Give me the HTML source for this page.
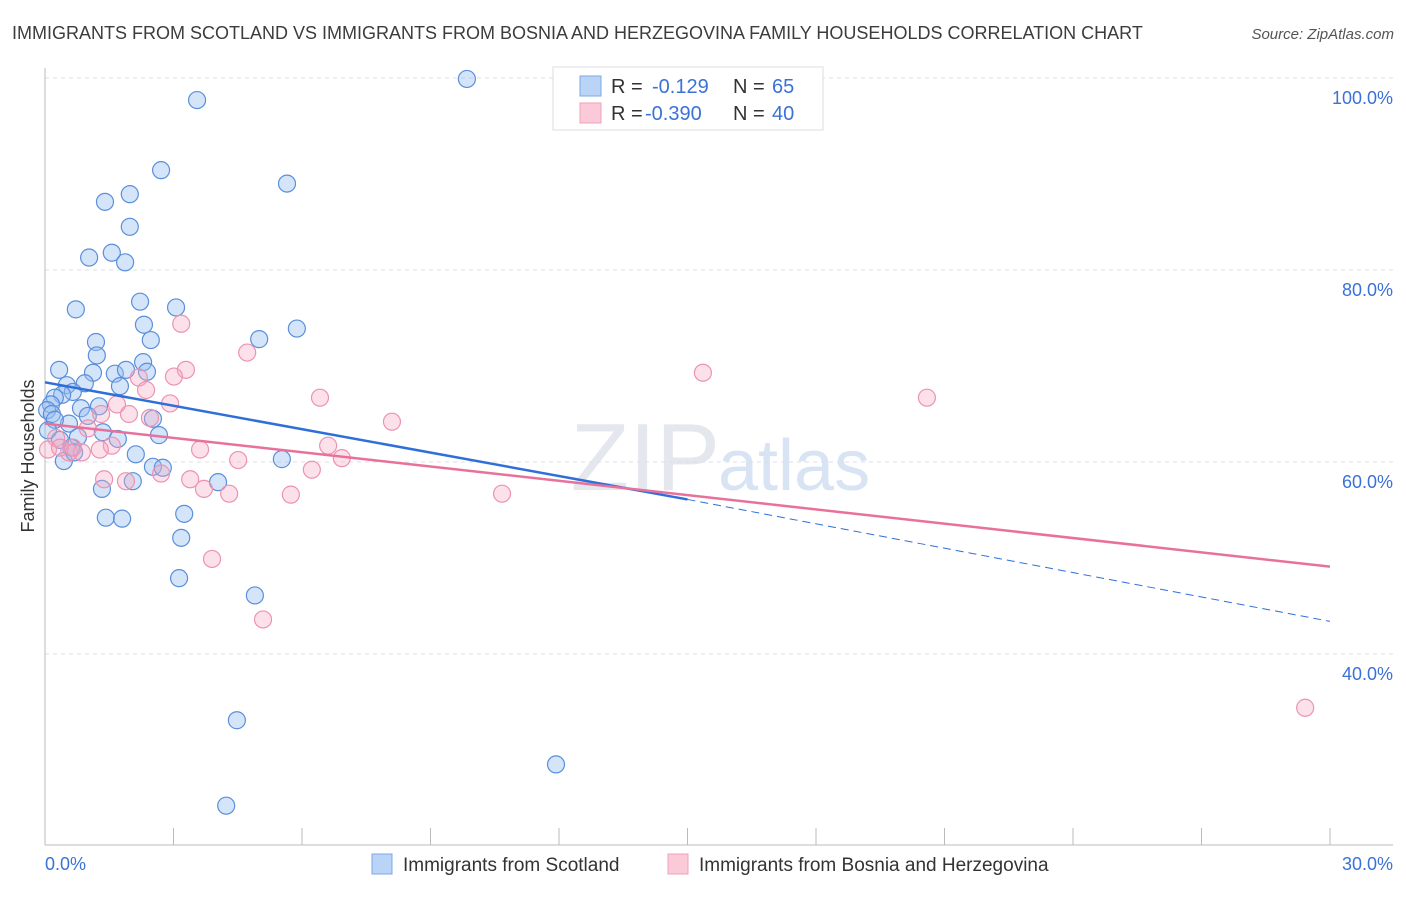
<!DOCTYPE html>
<html><head><meta charset="utf-8"><style>
body{margin:0;background:#fff;font-family:"Liberation Sans",sans-serif;}
svg text{font-family:"Liberation Sans",sans-serif;}
</style></head><body>
<svg id="chart" width="1406" height="892" xmlns="http://www.w3.org/2000/svg">
<text x="12" y="39" font-size="18" fill="#3c3c3c">IMMIGRANTS FROM SCOTLAND VS IMMIGRANTS FROM BOSNIA AND HERZEGOVINA FAMILY HOUSEHOLDS CORRELATION CHART</text>
<text x="1394" y="39" font-size="15" fill="#555" text-anchor="end" font-style="italic">Source: ZipAtlas.com</text>
<text x="720" y="490" font-size="96" fill="#e4e8ee" text-anchor="end" font-family="Liberation Serif">ZIP</text>
<text x="718" y="490" font-size="72" fill="#d8e4f3">atlas</text>
<g id="grid"></g>
<g id="axes"></g>
<g id="points"></g>
<g id="trends"></g>
<text transform="translate(34,456) rotate(-90)" font-size="18" fill="#333" text-anchor="middle">Family Households</text>
<g>
<rect x="553" y="67" width="270" height="63" fill="#fff" stroke="#ddd"/>
<rect x="580" y="76" width="21" height="20" fill="#b9d4f6" stroke="#7aa8e6"/>
<rect x="580" y="103" width="21" height="20" fill="#fbcad9" stroke="#f0a0ba"/>
<text x="611" y="93" font-size="20" fill="#333">R = </text><text x="652" y="93" font-size="20" fill="#3a72d6">-0.129</text>
<text x="733" y="93" font-size="20" fill="#333">N = </text><text x="772" y="93" font-size="20" fill="#3a72d6">65</text>
<text x="611" y="120" font-size="20" fill="#333">R = </text><text x="645" y="120" font-size="20" fill="#3a72d6">-0.390</text>
<text x="733" y="120" font-size="20" fill="#333">N = </text><text x="772" y="120" font-size="20" fill="#3a72d6">40</text>
</g>
<g>
<rect x="372" y="854" width="20" height="20" fill="#b9d4f6" stroke="#7aa8e6"/>
<text x="403" y="871" font-size="19" fill="#333">Immigrants from Scotland</text>
<rect x="668" y="854" width="20" height="20" fill="#fbcad9" stroke="#f0a0ba"/>
<text x="699" y="871" font-size="19" fill="#333">Immigrants from Bosnia and Herzegovina</text>
</g>
</svg>
<script>
const xTicks=[0,3,6,9,12,15,18,21,24,27,30];
const yTicks=[40,60,80,100];
const yTickLabels=["40.0%","60.0%","80.0%","100.0%"];
const xLabels=["0.0%","30.0%"];
const scotX=[9.85,3.55,2.71,5.65,1.98,1.40,1.98,1.56,1.03,1.87,2.22,0.72,3.06,2.31,5.88,2.47,5.00,1.19,1.21,2.29,0.33,1.63,1.89,2.38,1.12,0.51,0.93,1.75,0.65,0.40,0.23,0.14,1.26,0.84,0.05,0.16,1.00,2.52,0.56,0.23,1.35,2.66,0.77,1.70,0.61,2.12,5.53,0.44,2.52,2.75,4.04,2.05,1.33,1.42,1.80,3.25,3.18,3.13,4.90,4.48,11.93,4.23,0.68,0.07,0.35];
const scotY=[99.9,97.7,90.4,89.0,87.9,87.1,84.5,81.8,81.3,80.8,76.7,75.9,76.1,74.3,73.9,72.7,72.8,72.5,71.1,70.4,69.6,69.2,69.6,69.4,69.3,68.0,68.2,67.9,67.3,67.0,66.7,66.0,65.8,65.6,65.4,65.0,64.8,64.5,64.0,64.4,63.1,62.8,62.6,62.4,61.5,60.8,60.3,60.1,59.5,59.4,57.9,58.0,57.2,54.2,54.1,54.6,52.1,47.9,46.1,33.1,28.5,24.2,61.0,63.3,62.3];
const bosX=[3.18,4.72,3.29,2.19,3.01,2.36,2.92,1.68,6.42,1.96,2.45,1.31,8.10,6.61,1.00,0.26,1.56,3.62,0.56,0.86,1.28,4.51,6.93,6.23,2.71,3.39,1.38,1.89,3.71,4.30,5.74,10.67,3.90,5.09,15.36,20.59,29.42,0.07,0.35,0.65];
const bosY=[74.4,71.4,69.6,68.8,68.9,67.5,66.1,66.0,66.7,65.0,64.6,65.0,64.2,61.7,63.5,62.5,61.7,61.3,61.0,61.0,61.3,60.2,60.4,59.2,58.8,58.2,58.2,58.0,57.2,56.7,56.6,56.7,49.9,43.6,69.3,66.7,34.4,61.3,61.5,61.5];
const scotTrend=[68.3,56.1,43.4];
const bosTrend=[64.0,49.1];
const NS="http://www.w3.org/2000/svg";
const X=v=>45+v/30*1285;
const Y=v=>78+(100-v)*9.6;
function mk(tag,attrs,parent){const e=document.createElementNS(NS,tag);for(const k in attrs)e.setAttribute(k,attrs[k]);document.getElementById(parent).appendChild(e);return e;}
yTicks.forEach((t,i)=>{
 const l=mk('line',{x1:45,x2:1393,y1:Y(t),y2:Y(t),stroke:'#dde',"stroke-dasharray":'4,4'},'grid');
 
 
 const tx=mk('text',{x:1393,y:Y(t)+26,"font-size":18,fill:'#3a72d6',"text-anchor":'end'},'grid');
 tx.textContent=yTickLabels[i];
 
 
});
const ax=mk('line',{x1:45,x2:1393,y1:845,y2:845,stroke:'#bbb'},'axes');


const ay=mk('line',{x1:45,x2:45,y1:68,y2:845,stroke:'#bbb'},'axes');


xTicks.forEach(t=>{const l=mk('line',{x1:X(t),x2:X(t),y1:828,y2:845,stroke:'#bbb'},'axes');
 
 });
[[0,'start',45],[30,'end',1393]].forEach((d,i)=>{const t=mk('text',{x:d[2],y:870,"font-size":18,fill:'#3a72d6',"text-anchor":d[1]},'axes');t.textContent=xLabels[i];
 
 });
scotX.forEach((v,i)=>{const c=mk('circle',{cx:X(v),cy:Y(scotY[i]),r:8.5,fill:'rgba(150,190,240,0.4)',stroke:'#5b8fdc',"stroke-width":1.2},'points');
 
 });
bosX.forEach((v,i)=>{const c=mk('circle',{cx:X(v),cy:Y(bosY[i]),r:8.5,fill:'rgba(245,170,195,0.35)',stroke:'#ec93b1',"stroke-width":1.2},'points');
 
 });
const t1=mk('line',{x1:X(0),y1:Y(scotTrend[0]),x2:X(15),y2:Y(scotTrend[1]),stroke:'#2f6fd8',"stroke-width":2.5},'trends');


const t2=mk('line',{x1:X(15),y1:Y(scotTrend[1]),x2:X(30),y2:Y(scotTrend[2]),stroke:'#2f6fd8',"stroke-width":1,"stroke-dasharray":'8,5'},'trends');


const t3=mk('line',{x1:X(0),y1:Y(bosTrend[0]),x2:X(30),y2:Y(bosTrend[1]),stroke:'#e8719b',"stroke-width":2.5},'trends');


</script>
</body></html>
